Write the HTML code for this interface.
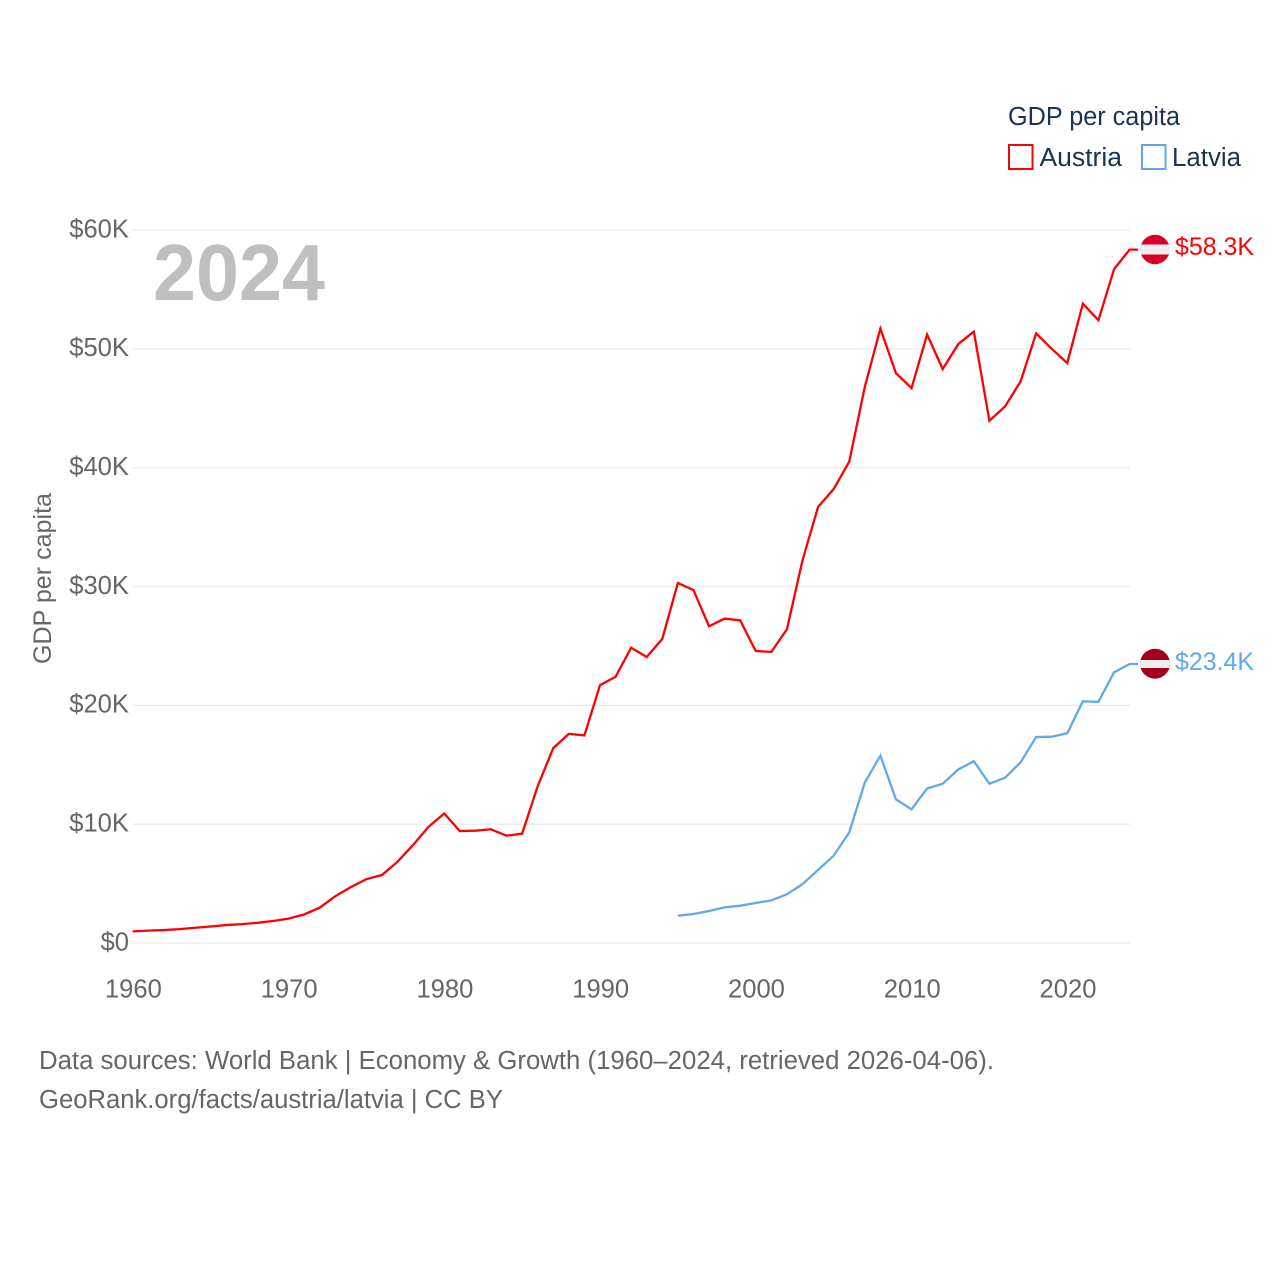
<!DOCTYPE html>
<html>
<head>
<meta charset="utf-8">
<title>GDP per capita: Austria and Latvia</title>
<style>
html,body{margin:0;padding:0;background:#fff;}
svg{display:block;}
text{font-family:"Liberation Sans",sans-serif;}
</style>
</head>
<body>
<svg id="chart" xmlns="http://www.w3.org/2000/svg" width="1280" height="1280" viewBox="0 0 1280 1280">
  <rect width="1280" height="1280" fill="#ffffff"/>
  <g id="grid"></g>
  <g id="yticks"></g>
  <g id="xticks"></g>
  <text x="153" y="300" font-size="80" font-weight="700" fill="#bfbfbf" textLength="172" lengthAdjust="spacingAndGlyphs">2024</text>
  <text transform="translate(51,664) rotate(-90)" font-size="25" fill="#666666" textLength="171" lengthAdjust="spacingAndGlyphs">GDP per capita</text>
  <g id="series"></g>

  <defs>
    <clipPath id="clip-at"><circle cx="1155" cy="249.5" r="14.7"/></clipPath>
    <clipPath id="clip-lv"><circle cx="1155" cy="663.7" r="15"/></clipPath>
  </defs>
  <g clip-path="url(#clip-at)">
    <rect x="1139" y="233" width="32" height="33" fill="#d80027"/>
    <rect x="1139" y="244.5" width="32" height="10" fill="#eeeeee"/>
  </g>
  <g clip-path="url(#clip-lv)">
    <rect x="1139" y="647" width="32" height="34" fill="#a2001d"/>
    <rect x="1139" y="660" width="32" height="8" fill="#eeeeee"/>
  </g>
  <text x="1175" y="255" font-size="25" fill="#ff0000" textLength="79" lengthAdjust="spacingAndGlyphs">$58.3K</text>
  <text x="1175" y="670" font-size="25" fill="#5fa8f0" textLength="79" lengthAdjust="spacingAndGlyphs">$23.4K</text>

  <g>
    <text x="1008" y="125" font-size="25.5" fill="#1a3354" textLength="172" lengthAdjust="spacingAndGlyphs">GDP per capita</text>
    <g>
      <rect x="1009" y="145" width="23.5" height="24" fill="#ffffff" stroke="#ff0000" stroke-width="2"/>
      <text x="1039.5" y="166" font-size="25.5" fill="#1a3354" textLength="82.5" lengthAdjust="spacingAndGlyphs">Austria</text>
    </g>
    <g>
      <rect x="1142" y="145" width="23.5" height="24" fill="#ffffff" stroke="#5fa8f0" stroke-width="2"/>
      <text x="1172" y="166" font-size="25.5" fill="#1a3354" textLength="69" lengthAdjust="spacingAndGlyphs">Latvia</text>
    </g>
  </g>

  <text x="39" y="1069" font-size="25.5" fill="#666666" textLength="955" lengthAdjust="spacingAndGlyphs">Data sources: World Bank | Economy &amp; Growth (1960–2024, retrieved 2026-04-06).</text>
  <text x="39" y="1108" font-size="25.5" fill="#666666" textLength="464" lengthAdjust="spacingAndGlyphs">GeoRank.org/facts/austria/latvia | CC BY</text>
</svg>
<script>
const austriaStartYear = 1960;
const latviaStartYear = 1995;
const austriaValues = [0.98,1.04,1.09,1.17,1.28,1.39,1.51,1.59,1.70,1.85,2.05,2.40,2.97,3.93,4.70,5.37,5.72,6.84,8.25,9.79,10.9,9.42,9.45,9.57,9.03,9.20,13.2,16.4,17.6,17.47,21.7,22.4,24.85,24.07,25.6,30.3,29.7,26.65,27.3,27.15,24.57,24.5,26.4,32.2,36.7,38.2,40.5,46.8,51.7,47.95,46.7,51.2,48.3,50.4,51.45,43.95,45.15,47.25,51.3,50.0,48.8,53.8,52.4,56.7,58.35];
const latviaValues = [2.3,2.44,2.69,3.0,3.14,3.37,3.59,4.1,4.96,6.14,7.35,9.3,13.5,15.76,12.09,11.25,13.0,13.4,14.6,15.3,13.4,13.9,15.2,17.33,17.36,17.65,20.34,20.3,22.78,23.48];
const yTickValues = [0,10,20,30,40,50,60];
const yTickLabels = ["$0","$10K","$20K","$30K","$40K","$50K","$60K"];
const xTickValues = [1960,1970,1980,1990,2000,2010,2020];

const NS = "http://www.w3.org/2000/svg";
function xScale(year){ return 132.7 + (year - 1960) * (1129.6 - 132.7) / 64; }
function yScale(v){ return 943 - v * (943 - 230) / 60; }

function make(tag, attrs, parent){
  const el = document.createElementNS(NS, tag);
  for (const k in attrs) el.setAttribute(k, attrs[k]);
  parent.appendChild(el);
  return el;
}

const grid = document.getElementById("grid");
const yticks = document.getElementById("yticks");
const xticks = document.getElementById("xticks");
const series = document.getElementById("series");

yTickValues.forEach(function(v, i){
  const line = make("line", {x1:133, x2:1130, y1:yScale(v), y2:yScale(v), stroke:"#ebebeb", "stroke-width":1.3}, grid);
  
  
  const t = make("text", {x:129, y:yScale(v) + 7.4, "text-anchor":"end", "font-size":25.6, fill:"#666666"}, yticks);
  
  
  t.textContent = yTickLabels[i];
});

xTickValues.forEach(function(year){
  const t = make("text", {x:xScale(year) + 0.7, y:997.7, "text-anchor":"middle", "font-size":25.6, fill:"#666666"}, xticks);
  
  
  t.textContent = String(year);
});

function linePath(values, startYear){
  let d = "";
  values.forEach(function(v, i){
    d += (i ? "L" : "M") + xScale(startYear + i).toFixed(2) + " " + yScale(v).toFixed(2);
  });
  d += "H1138";
  return d;
}

const austriaLine = make("path", {d:linePath(austriaValues, austriaStartYear), fill:"none", stroke:"#ff0000", "stroke-width":2.3, "stroke-linejoin":"miter"}, series);



const latviaLine = make("path", {d:linePath(latviaValues, latviaStartYear), fill:"none", stroke:"#5fa8f0", "stroke-width":2.3, "stroke-linejoin":"miter"}, series);


</script>
</body>
</html>
